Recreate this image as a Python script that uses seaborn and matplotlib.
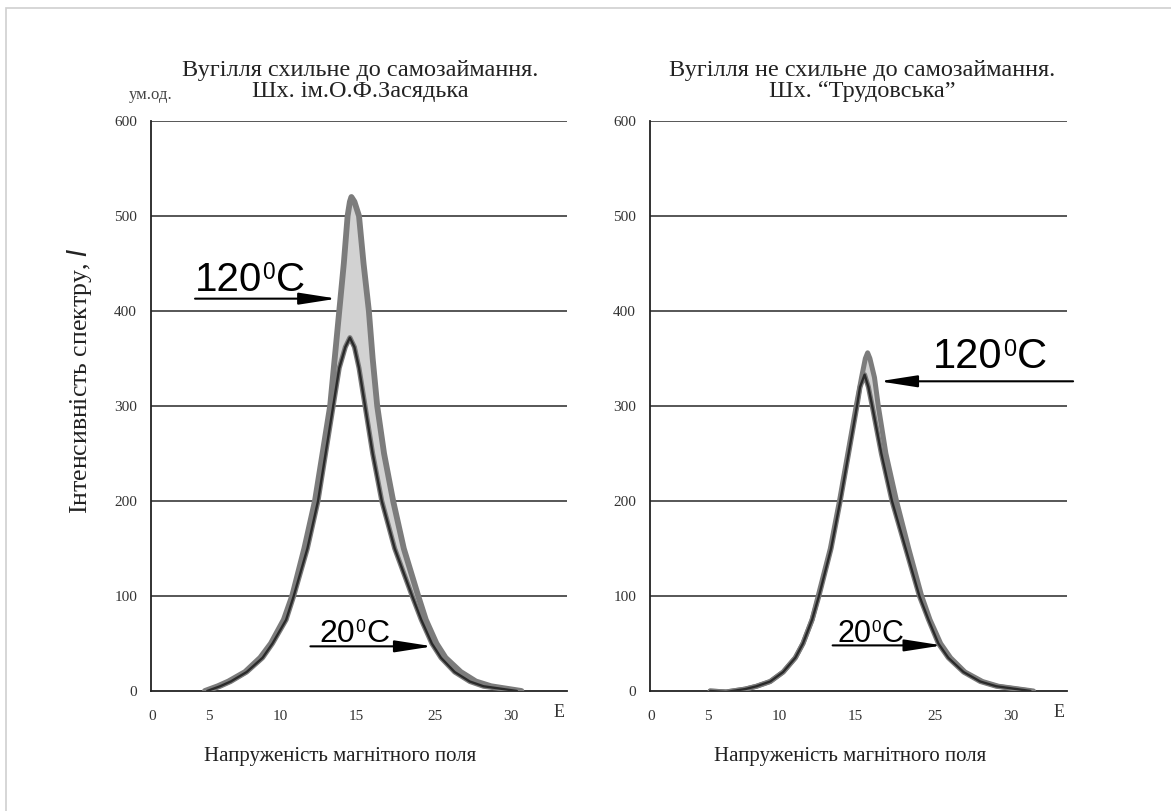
import numpy as np
import pandas as pd
import matplotlib
matplotlib.use('Agg')
import matplotlib.pyplot as plt
import matplotlib.transforms as mtransforms
import seaborn as sns
from matplotlib.patches import Rectangle

# ---- data (x in axis units, tick labels as printed in the original) ----
tick_pos = [0.1, 3.8, 8.5, 13.5, 18.7, 23.7]
tick_labels = ['0', '5', '10', '15', '25', '30']
y_ticks = [0, 100, 200, 300, 400, 500, 600]

# left panel: coal prone to self-ignition
left_x_120 = [3.55, 4.4, 5.1, 6.2, 7.2, 7.9, 8.75, 9.3, 10.1, 10.8, 11.3, 11.8, 12.1, 12.4, 12.7, 12.95, 13.1, 13.2,
              13.4, 13.7, 14.0, 14.35, 14.6, 14.9, 15.35, 15.95, 16.65, 17.6, 18.1, 18.8, 19.4, 20.4, 21.4, 22.4, 24.4]
left_y_120 = [0, 5, 10, 20, 35, 50, 75, 100, 150, 200, 250, 300, 350, 400, 450, 500, 515, 520,
              515, 500, 450, 400, 350, 300, 250, 200, 150, 100, 75, 50, 35, 20, 10, 5, 0]
left_x_20 = [3.7, 4.55, 5.25, 6.3, 7.35, 8.0, 8.9, 9.4, 10.3, 11.0, 11.5, 12.0, 12.4, 12.8, 13.1,
             13.4, 13.7, 14.1, 14.6, 15.2, 16.05, 17.2, 17.8, 18.5, 19.1, 20.0, 21.0, 21.9, 24.1]
left_y_20 = [0, 5, 10, 20, 35, 50, 75, 100, 150, 200, 250, 300, 340, 362, 372,
             362, 340, 300, 250, 200, 150, 100, 75, 50, 35, 20, 10, 5, 0]

# right panel: coal not prone to self-ignition
right_x_120 = [3.95, 5.0, 6.25, 7.0, 7.9, 8.75, 9.55, 10.05, 10.65, 11.05, 11.85, 12.45, 13.0, 13.55, 13.9, 14.15,
               14.3, 14.45, 14.75, 15.0, 15.5, 16.2, 17.0, 17.85, 18.4, 19.1, 19.75, 20.7, 21.85, 22.9, 25.2]
right_y_120 = [0, -1, 2, 5, 10, 20, 35, 50, 75, 100, 150, 200, 250, 300, 330, 350,
               356, 350, 330, 300, 250, 200, 150, 100, 75, 50, 35, 20, 10, 5, 0]
right_x_20 = [3.95, 5.0, 6.25, 7.0, 7.9, 8.75, 9.55, 10.05, 10.65, 11.1, 11.9, 12.5, 13.05, 13.6, 13.8,
              14.1, 14.35, 14.6, 15.2, 15.9, 16.8, 17.7, 18.3, 18.95, 19.6, 20.6, 21.7, 22.75, 25.0]
right_y_20 = [0, -1, 2, 5, 10, 20, 35, 50, 75, 100, 150, 200, 250, 300, 320,
              333, 320, 300, 250, 200, 150, 100, 75, 50, 35, 20, 10, 5, 0]

titles = ['Вугілля схильне до самозаймання.\nШх. ім.О.Ф.Засядька',
          'Вугілля не схильне до самозаймання.\nШх. \u201cТрудовська\u201d']
xlabel = 'Напруженість магнітного поля'
ylabel = 'Інтенсивність спектру, '

sns.set_theme(style='white')
plt.rcParams['font.family'] = ['Liberation Serif', 'DejaVu Serif']

fig = plt.figure(figsize=(11.71, 8.11), dpi=100)
fig.patches.append(Rectangle((6 / 1171, -0.1), 1.2, (811 - 8) / 811 + 0.1, transform=fig.transFigure,
                             fill=False, edgecolor='#cfcfcf', lw=1.2))

ax_l = fig.add_axes([151 / 1171, 120 / 811, 416 / 1171, 570 / 811])
ax_r = fig.add_axes([650 / 1171, 120 / 811, 417 / 1171, 570 / 811])

panels = [
    (ax_l, left_x_120, left_y_120, left_x_20, left_y_20, 4.2),
    (ax_r, right_x_120, right_y_120, right_x_20, right_y_20, 3.6),
]

for ax, x120, y120, x20, y20, lw_hot in panels:
    ax.set_xlim(0, 27.4)
    ax.set_ylim(0, 600)
    for v in y_ticks[1:]:
        ax.axhline(v, color='#3a3a3a', lw=1.2, zorder=1)
    # shaded band between the two curves
    ax.fill(list(x120) + list(x20)[::-1], list(y120) + list(y20)[::-1],
            color='#d2d2d2', lw=0, zorder=2)
    d120 = pd.DataFrame({'E': x120, 'I': y120})
    d20 = pd.DataFrame({'E': x20, 'I': y20})
    sns.lineplot(data=d20, x='E', y='I', ax=ax, color='#7a7a7a', lw=3.6, sort=False,
                 estimator=None, zorder=3)
    sns.lineplot(data=d120, x='E', y='I', ax=ax, color='#7c7c7c', lw=lw_hot, sort=False,
                 estimator=None, zorder=4)
    sns.lineplot(data=d20, x='E', y='I', ax=ax, color='#2a2a2a', lw=1.7, sort=False,
                 estimator=None, zorder=5)

    for s in ['top', 'right']:
        ax.spines[s].set_visible(False)
    for s in ['left', 'bottom']:
        ax.spines[s].set_color('#222222')
        ax.spines[s].set_linewidth(1.3)
    ax.set_yticks(y_ticks)
    ax.set_yticklabels([str(v) for v in y_ticks], fontsize=11, color='#333333')
    ax.set_xticks(tick_pos)
    ax.set_xticklabels(tick_labels, fontsize=11, color='#333333')
    ax.tick_params(axis='y', direction='out', length=5, width=1.2, color='#222222', pad=5)
    ax.tick_params(axis='x', length=0, pad=14)
    ax.set_xlabel('')
    ax.set_ylabel('')
    ax.text(26.9, -23, 'E', fontsize=13, color='#333333', ha='center', va='center')
    ax.set_facecolor('none')
    ax.grid(False)

arrow_kw = dict(arrowstyle='-|>,head_length=1.15,head_width=0.18', color='black',
                lw=1.5, mutation_scale=20, shrinkA=0, shrinkB=0)
sans = ['Liberation Sans', 'DejaVu Sans']


def deg_label(ax, x, y, num, size):
    # number, small raised "0", then "C" (as in the original figure)
    ax.text(x, y, num, family=sans, fontsize=size, ha='left', va='baseline', color='black')
    w = len(num) * 0.556 * size
    t_sup = mtransforms.offset_copy(ax.transData, fig=fig, x=w + 0.01 * size, y=0.30 * size, units='points')
    ax.text(x, y, '0', family=sans, fontsize=0.56 * size, ha='left', va='baseline',
            color='black', transform=t_sup)
    t_c = mtransforms.offset_copy(ax.transData, fig=fig, x=w + 0.01 * size + 0.33 * size, y=0,
                                  units='points')
    ax.text(x, y, 'C', family=sans, fontsize=size, ha='left', va='baseline', color='black',
            transform=t_c)


# left annotations
ax_l.annotate('', xy=(12.24, 413), xytext=(2.9, 413), arrowprops=arrow_kw, annotation_clip=False)
deg_label(ax_l, 2.9, 421, '120', 29)
ax_l.annotate('', xy=(18.55, 47), xytext=(10.5, 47), arrowprops=arrow_kw, annotation_clip=False)
deg_label(ax_l, 11.1, 52, '20', 23)

# right annotations
ax_r.annotate('', xy=(15.07, 326), xytext=(27.8, 326), arrowprops=arrow_kw, annotation_clip=False)
deg_label(ax_r, 18.6, 340, '120', 30)
ax_r.annotate('', xy=(19.2, 48), xytext=(12.0, 48), arrowprops=arrow_kw, annotation_clip=False)
deg_label(ax_r, 12.3, 52, '20', 22)

# titles and labels
fig.text(360 / 1171, 1 - 81 / 811, titles[0], fontsize=17.5, ha='center', va='center',
         linespacing=1.05, color='#222222')
fig.text(862 / 1171, 1 - 81 / 811, titles[1], fontsize=17.5, ha='center', va='center',
         linespacing=1.05, color='#222222')
fig.text(151 / 1171, 1 - 95 / 811, 'ум.од.', fontsize=12, ha='center', va='center',
         color='#444444')
fig.text(340 / 1171, 1 - 757 / 811, xlabel, fontsize=15, ha='center', va='center', color='#222222')
fig.text(850 / 1171, 1 - 757 / 811, xlabel, fontsize=15, ha='center', va='center', color='#222222')
fig.text(80 / 1171, 1 - 381 / 811, ylabel + '$\\mathit{I}$', fontsize=18.5, rotation=90,
         ha='center', va='center', color='#222222')

fig.savefig('out.png', dpi=100)
